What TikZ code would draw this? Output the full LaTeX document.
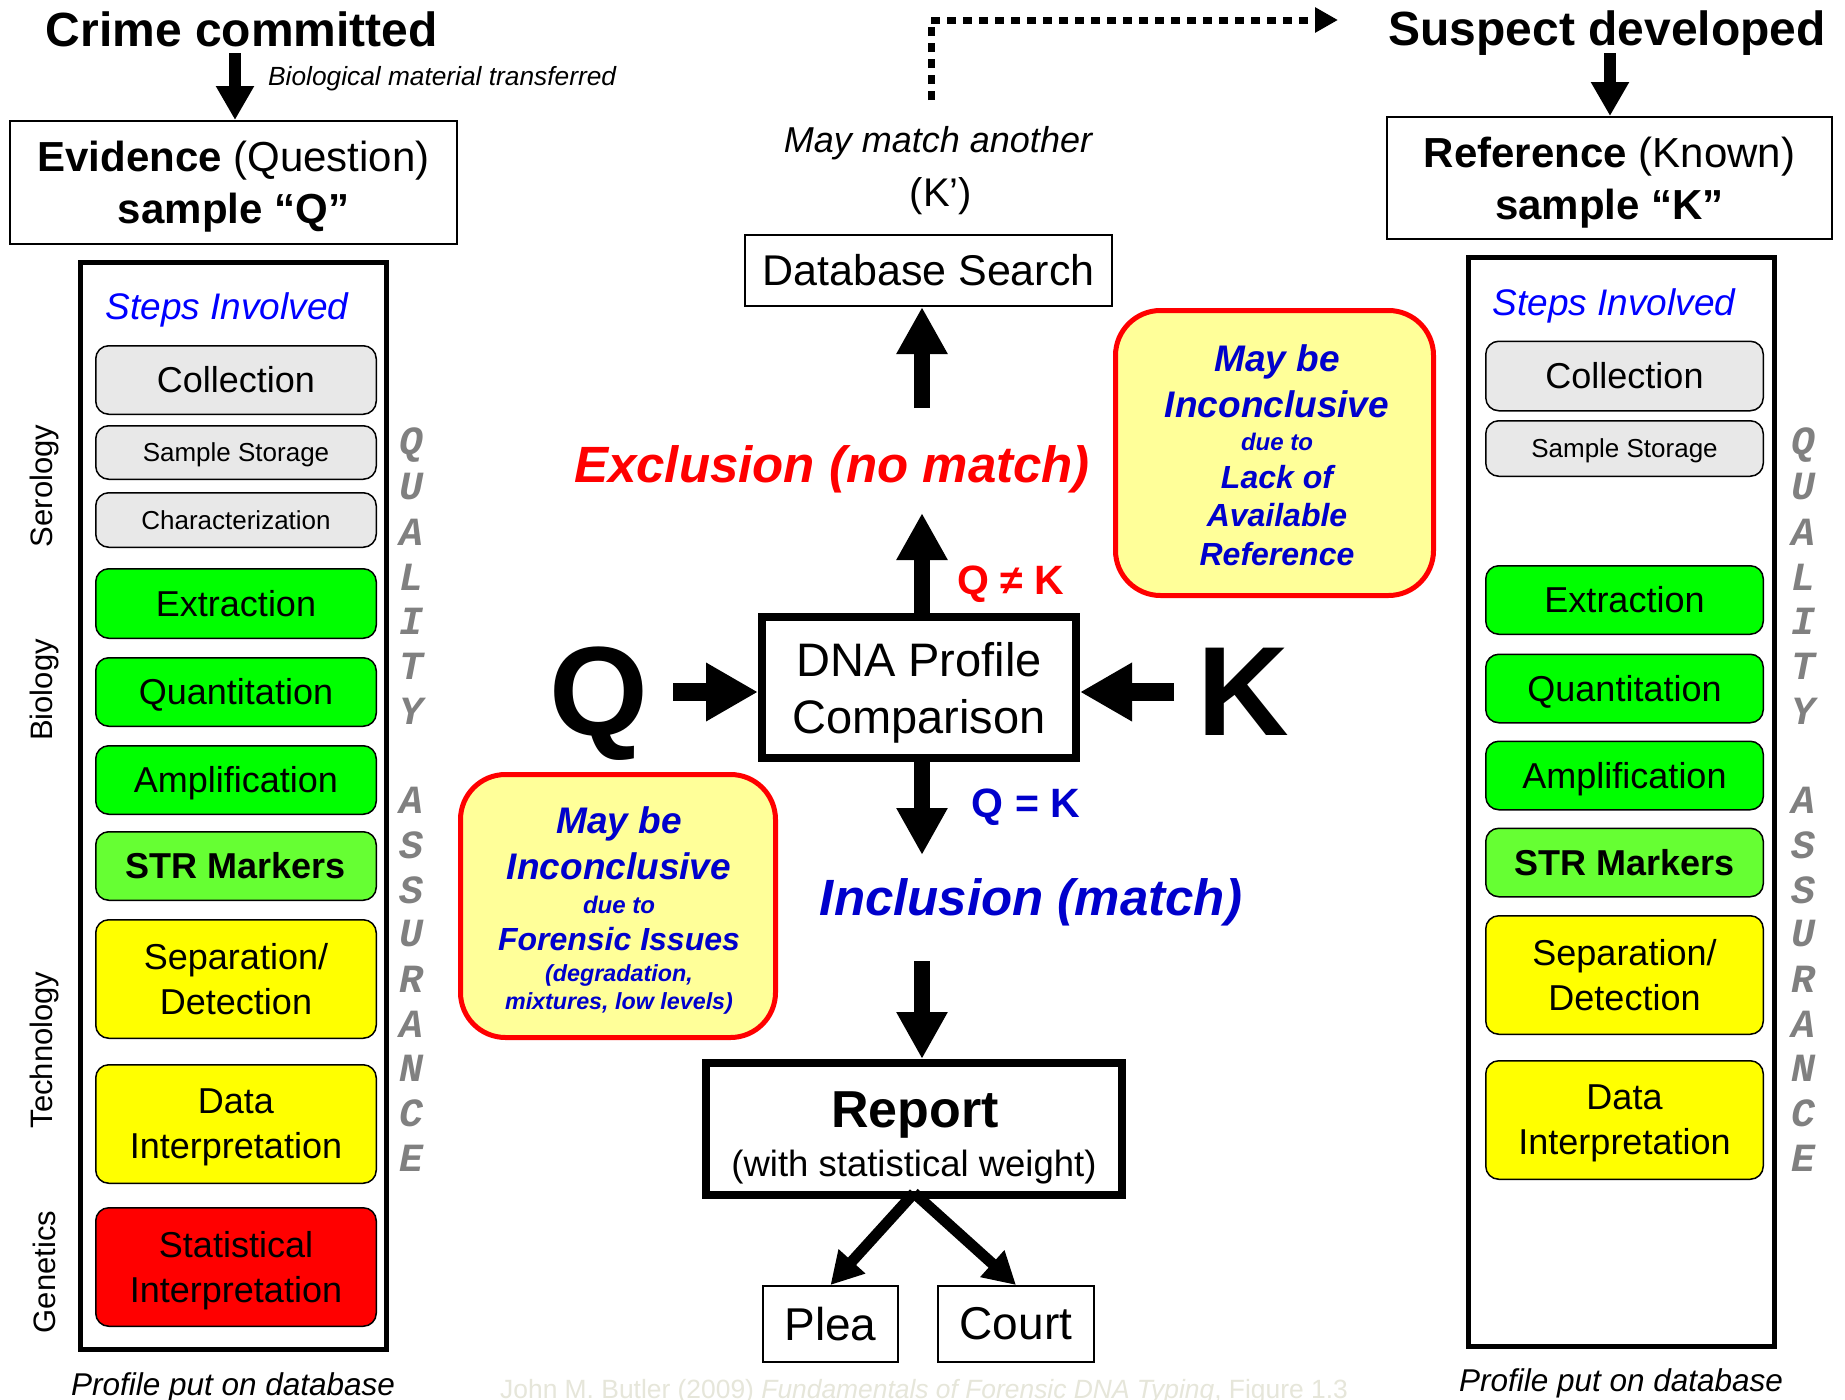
\documentclass[tikz,border=0pt]{standalone}
\usepackage{fontspec}
\setmainfont{Liberation Sans}
\newfontfamily\qafont{Liberation Mono}
\usetikzlibrary{arrows.meta}
\newcommand\fs[2]{\fontsize{#1}{#2}\selectfont}
\definecolor{stepgray}{HTML}{E8E8E8}
\definecolor{stepgreen}{HTML}{00FF00}
\definecolor{strgreen}{HTML}{66FF33}
\definecolor{stepyellow}{HTML}{FFFF00}
\definecolor{stepred}{HTML}{FF0000}
\definecolor{calloutyellow}{HTML}{FFFF99}
\definecolor{calloutblue}{HTML}{0000CC}
\definecolor{stepsblue}{HTML}{0000FF}
\definecolor{qagray}{HTML}{808080}
\definecolor{footgray}{HTML}{E6E6DA}
\begin{document}
\begin{tikzpicture}[x=1pt,y=-1pt,
  txt/.style={inner sep=0pt},
  stepbox/.style={draw, line width=1.5pt, rounded corners=13pt, inner sep=0pt, align=center, font=\fs{36}{45}},
  qstep/.style={stepbox, minimum width=280.5pt},
  kstep/.style={stepbox, minimum width=277.5pt},
  onel/.style={text height=25.8pt, text depth=0pt},
  smallstep/.style={font=\fs{26}{31}, text height=18.6pt, text depth=0pt},
  twol/.style={text depth=0pt},
  plainbox/.style={draw, line width=2pt, inner sep=0pt, align=center},
  heavybox/.style={draw, line width=8pt, inner sep=0pt, align=center},
  column/.style={draw, line width=5pt, inner sep=0pt},
  callout/.style={draw=red, fill=calloutyellow, line width=5pt, rounded corners=45pt, inner sep=0pt},
  cotext/.style={inner sep=0pt, anchor=base, text=calloutblue},
  qa/.style={inner sep=0pt, text=qagray, font=\qafont\bfseries\itshape\fs{40}{40}},
  side/.style={inner sep=0pt, rotate=90, font=\fs{31}{37}},
  toparrow/.style={line width=12pt, -{Triangle[length=34pt,width=36pt]}},
  vertarrow/.style={line width=16pt, -{Triangle[length=47pt,width=48pt]}},
  blockarrow/.style={line width=18pt, -{Triangle[length=52pt,width=55pt]}},
  diagarrow/.style={line width=11pt, -{Triangle[length=32pt,width=34pt]}},
  dotarrow/.style={line width=7pt, dash pattern=on 9pt off 7pt, -{Triangle[length=23pt,width=24pt]}},
]
\useasboundingbox (0,0) rectangle (1845,1400);
\fill[white] (0,0) rectangle (1845,1400);

% ---------- titles ----------
\node[txt, anchor=base, font=\fs{48}{56}\bfseries] (crime) at (242,46) {Crime committed};
\node[txt, anchor=base, font=\fs{48}{56}\bfseries] (suspect) at (1607,45) {Suspect developed};
\node[txt, anchor=west, font=\fs{26.3}{30}\itshape] (bio) at (268,79) {Biological material transferred};

% ---------- sample boxes ----------
\node[plainbox, text depth=-2pt, minimum width=447pt, minimum height=123pt, font=\fs{42}{52}] (qbox) at (233.5,182.5)
  {\textbf{Evidence} (Question)\\\textbf{sample “Q”}};
\node[plainbox, text depth=-2pt, minimum width=445pt, minimum height=122pt, font=\fs{42}{52}] (kbox) at (1609.5,178)
  {\textbf{Reference} (Known)\\\textbf{sample “K”}};
\coordinate (qarr) at (235,53);
\coordinate (karr) at (1610,53);
\draw[toparrow] (qarr) -- (qarr |- qbox.north);
\draw[toparrow] (karr) -- (karr |- kbox.north);

% ---------- columns ----------
\node[column, minimum width=306pt, minimum height=1087pt] (qcol) at (233.5,806) {};
\node[column, minimum width=306pt, minimum height=1089pt] (kcol) at (1621.5,802) {};
\node[txt, anchor=base, font=\fs{37}{44}\itshape, text=stepsblue] (qsteps) at (227,319) {Steps Involved};
\node[txt, anchor=base, font=\fs{37}{44}\itshape, text=stepsblue] (ksteps) at (1614,315) {Steps Involved};

% left steps
\node[qstep, onel, fill=stepgray, minimum height=68.5pt] (q1) at (236,380) {Collection};
\node[qstep, smallstep, fill=stepgray, minimum height=53.5pt] (q2) at (236,452.5) {Sample Storage};
\node[qstep, smallstep, fill=stepgray, minimum height=54.5pt] (q3) at (236,520) {Characterization};
\node[qstep, onel, fill=stepgreen, minimum height=69.5pt] (q4) at (236,603.5) {Extraction};
\node[qstep, onel, fill=stepgreen, minimum height=68.5pt] (q5) at (236,692) {Quantitation};
\node[qstep, onel, fill=stepgreen, minimum height=68.5pt] (q6) at (236,780) {Amplification};
\node[qstep, onel, fill=strgreen, minimum height=68.5pt, font=\fs{36}{45}\bfseries] (q7) at (236,866) {STR Markers};
\node[qstep, fill=stepyellow, minimum height=118.5pt] (q8) at (236,979) {Separation/\\Detection};
\node[qstep, twol, fill=stepyellow, minimum height=118.5pt] (q9) at (236,1124) {Data\\Interpretation};
\node[qstep, twol, fill=stepred, minimum height=118.5pt] (q10) at (236,1267) {Statistical\\Interpretation};

% right steps
\node[kstep, onel, fill=stepgray, minimum height=69.5pt] (k1) at (1624.5,376) {Collection};
\node[kstep, smallstep, fill=stepgray, minimum height=55.5pt] (k2) at (1624.5,448.5) {Sample Storage};
\node[kstep, onel, fill=stepgreen, minimum height=68.5pt] (k4) at (1624.5,600) {Extraction};
\node[kstep, onel, fill=stepgreen, minimum height=68.5pt] (k5) at (1624.5,688.5) {Quantitation};
\node[kstep, onel, fill=stepgreen, minimum height=68.5pt] (k6) at (1624.5,775.5) {Amplification};
\node[kstep, onel, fill=strgreen, minimum height=68.5pt, font=\fs{36}{45}\bfseries] (k7) at (1624.5,862.5) {STR Markers};
\node[kstep, fill=stepyellow, minimum height=118.5pt] (k8) at (1624.5,975) {Separation/\\Detection};
\node[kstep, twol, fill=stepyellow, minimum height=118.5pt] (k9) at (1624.5,1120) {Data\\Interpretation};

% side labels
\node[side] (serology) at (44,486) {Serology};
\node[side] (biology) at (44,690) {Biology};
\node[side] (technology) at (44,1050) {Technology};
\node[side] (genetics) at (44,1272) {Genetics};

% quality assurance letters
\foreach \l/\yy [count=\i] in {Q/445,U/487,A/532,L/577,I/621,T/666,Y/711,A/800,S/845,S/890,U/934,R/979,A/1024,N/1068,C/1113,E/1158}{
  \node[qa] (qaL\i) at (411,\yy) {\l};
  \node[qa] (qaR\i) at (1803,\yy) {\l};
}

\node[txt, anchor=base, font=\fs{31.5}{38}\itshape] (qprof) at (233,1395) {Profile put on database};
\node[txt, anchor=base, font=\fs{31.5}{38}\itshape] (kprof) at (1621,1391) {Profile put on database};

% ---------- centre ----------
\node[txt, anchor=base, font=\fs{36}{42}\itshape] (maymatch) at (938,152) {May match another};
\node[txt, anchor=base, font=\fs{40}{46}] (kprime) at (941,206) {(K’)};
\node[plainbox, minimum width=367pt, minimum height=71pt, font=\fs{43}{50}] (db) at (928.5,270.5) {Database Search};

\node[txt, anchor=base, font=\fs{51}{60}\bfseries\itshape, text=red] (excl) at (832,482) {Exclusion (no match)};
\node[txt, anchor=base, font=\fs{41}{46}\bfseries, text=red] (qnek) at (1011,594) {Q ≠ K};
\node[heavybox, twol, minimum width=314pt, minimum height=141pt, font=\fs{47}{57}] (dna) at (919,687.5) {DNA Profile\\Comparison};
\node[txt, anchor=base, font=\fs{127}{127}\bfseries] (qlet) at (599,735) {Q};
\node[txt, anchor=base, font=\fs{127}{127}\bfseries] (klet) at (1243,735) {K};
\node[txt, anchor=base, font=\fs{41}{46}\bfseries, text=calloutblue] (qeqk) at (1026,817) {Q = K};
\node[txt, anchor=base, font=\fs{51}{60}\bfseries\itshape, text=calloutblue] (incl) at (1031,915) {Inclusion (match)};

\node[heavybox, minimum width=416pt, minimum height=132pt] (report) at (914,1129) {};
\node[txt, anchor=base, font=\fs{52}{60}\bfseries] (reptitle) at (915,1127) {Report};
\node[txt, anchor=base, font=\fs{36.5}{42}] (repsub) at (914,1176) {(with statistical weight)};
\node[plainbox, minimum width=135pt, minimum height=76pt, font=\fs{46}{54}] (plea) at (830.5,1324) {Plea};
\node[plainbox, minimum width=156pt, minimum height=76pt, font=\fs{46}{54}] (court) at (1016,1324) {Court};

% callouts
\node[callout, minimum width=315pt, minimum height=263pt] (lcall) at (618,906) {};
\node[cotext, font=\fs{37}{44}\bfseries\itshape] (l1) at (619,833) {May be};
\node[cotext, font=\fs{37}{44}\bfseries\itshape] (l2) at (619,879) {Inconclusive};
\node[cotext, font=\fs{24}{28}\bfseries\itshape] (l3) at (619,913) {due to};
\node[cotext, font=\fs{32}{38}\bfseries\itshape] (l4) at (619,950) {Forensic Issues};
\node[cotext, font=\fs{23.3}{27}\bfseries\itshape] (l5) at (619,981) {(degradation,};
\node[cotext, font=\fs{23.3}{27}\bfseries\itshape] (l6) at (619,1009) {mixtures, low levels)};

\node[callout, minimum width=318pt, minimum height=285pt] (rcall) at (1274.5,453) {};
\node[cotext, font=\fs{37}{44}\bfseries\itshape] (r1) at (1277,371) {May be};
\node[cotext, font=\fs{37}{44}\bfseries\itshape] (r2) at (1277,417) {Inconclusive};
\node[cotext, font=\fs{24}{28}\bfseries\itshape] (r3) at (1277,450) {due to};
\node[cotext, font=\fs{32}{38}\bfseries\itshape] (r4) at (1277,488) {Lack of};
\node[cotext, font=\fs{32}{38}\bfseries\itshape] (r5) at (1277,526) {Available};
\node[cotext, font=\fs{32}{38}\bfseries\itshape] (r6) at (1277,565) {Reference};

% footer
\node[txt, anchor=base, font=\fs{26.4}{30}, text=footgray] (credit) at (924,1398)
  {John M. Butler (2009) \textit{Fundamentals of Forensic DNA Typing}, Figure 1.3};

% ---------- connectors ----------
\coordinate (dotstart) at (931,100);
\coordinate (dotcorner) at (931,20);
\coordinate (dotend) at (1338,20);
\draw[dotarrow] (dotstart) -- (dotcorner) -- (dotend);

\coordinate (dbtail) at (922,408);
\draw[vertarrow] (dbtail) -- (dbtail |- db.south);
\coordinate (excltip) at (922,513);
\draw[vertarrow] (excltip |- dna.north) -- (excltip);
\coordinate (incltip) at (922,855);
\draw[vertarrow] (incltip |- dna.south) -- (incltip);
\coordinate (reptail) at (922,961);
\draw[vertarrow] (reptail) -- (reptail |- report.north);

\coordinate (qtail) at (673,692);
\draw[blockarrow] (qtail) -- (qtail -| dna.west);
\coordinate (ktail) at (1174,692);
\draw[blockarrow] (ktail) -- (ktail -| dna.east);

\draw[diagarrow] ([yshift=6pt]report.south) -- (plea.north);
\draw[diagarrow] ([yshift=6pt]report.south) -- (court.north);
\end{tikzpicture}
\end{document}
